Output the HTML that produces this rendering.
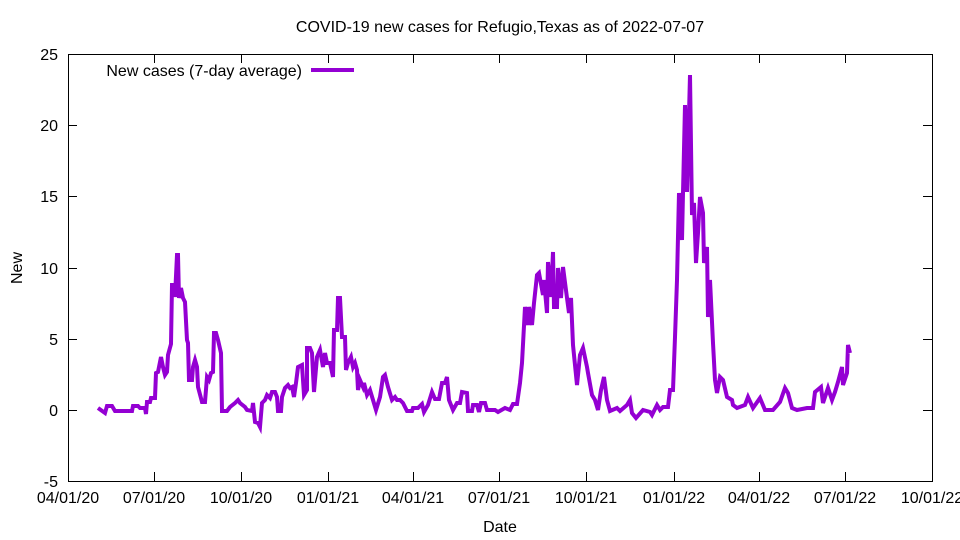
<!DOCTYPE html>
<html><head><meta charset="utf-8"><style>
html,body{margin:0;padding:0;background:#fff}
svg{display:block;font-family:"Liberation Sans",sans-serif;font-size:16px}
</style></head><body>
<svg width="960" height="540" viewBox="0 0 960 540" xmlns="http://www.w3.org/2000/svg">
<rect width="960" height="540" fill="#fff"/>
<text x="500" y="32" text-anchor="middle" font-size="16">COVID-19 new cases for Refugio,Texas as of 2022-07-07</text>
<g stroke="#000" stroke-width="1" fill="none">
<rect x="68.5" y="54.5" width="864" height="427"/>
<path d="M68 410.5h9M932 410.5h-9M68 339.5h9M932 339.5h-9M68 268.5h9M932 268.5h-9M68 196.5h9M932 196.5h-9M68 125.5h9M932 125.5h-9M68 481.5h9M932 481.5h-9M68 54.5h9M932 54.5h-9"/>
<path d="M68.5 481v-9M68.5 54v9M154.5 481v-9M154.5 54v9M241.5 481v-9M241.5 54v9M328.5 481v-9M328.5 54v9M413.5 481v-9M413.5 54v9M499.5 481v-9M499.5 54v9M586.5 481v-9M586.5 54v9M674.5 481v-9M674.5 54v9M759.5 481v-9M759.5 54v9M845.5 481v-9M845.5 54v9M932.5 481v-9M932.5 54v9"/>
</g>
<g text-anchor="end" font-size="16">
<text x="58" y="487">-5</text><text x="58" y="416">0</text><text x="58" y="345">5</text><text x="58" y="274">10</text><text x="58" y="202">15</text><text x="58" y="131">20</text><text x="58" y="60">25</text>
</g>
<g text-anchor="middle" font-size="16">
<text x="68" y="503">04/01/20</text><text x="154" y="503">07/01/20</text><text x="241" y="503">10/01/20</text><text x="328" y="503">01/01/21</text><text x="413" y="503">04/01/21</text><text x="499" y="503">07/01/21</text><text x="586" y="503">10/01/21</text><text x="674" y="503">01/01/22</text><text x="759" y="503">04/01/22</text><text x="845" y="503">07/01/22</text><text x="932" y="503">10/01/22</text>
<text x="500" y="532">Date</text>
<text x="0" y="0" transform="translate(22,268) rotate(-90)">New</text>
</g>
<text x="302" y="76" text-anchor="end">New cases (7-day average)</text>
<line x1="311" y1="70" x2="354" y2="70" stroke="#9400d3" stroke-width="4"/>
<polyline fill="none" stroke="#9400d3" stroke-width="4" stroke-linejoin="miter" points="98,408 105,413 107,406 112,406 115,411 132,411 133,406 138,406 140,408 145,408 146,414 147,402 150,402 151,398 155,398 156,373 158,372 161,357 163,367 165,375 167,372 168,355 171,344 172,285 174,285 175,297 177,255 178,255 179,298 181,288 183,298 185,302 187,340 188,343 189,380 192,380 193,367 195,360 197,367 198,387 202,402 205,402 207,377 209,380 211,373 213,372 214,333 216,333 218,340 221,353 222,411 227,411 230,407 235,403 238,400 240,403 245,407 247,410 252,411 253,403 255,422 258,423 260,427 262,403 265,400 267,395 270,398 272,392 275,392 277,397 278,411 281,411 282,397 285,388 288,385 290,388 292,387 294,397 296,383 298,367 302,365 304,395 307,390 307,348 310,348 312,353 314,392 317,357 320,350 323,367 325,353 327,363 330,363 333,377 334,330 337,330 338,298 340,298 342,337 345,337 346,370 348,363 351,357 353,367 355,363 357,370 358,390 360,380 363,387 364,383 367,395 370,390 373,400 376,410 380,397 383,377 385,375 388,387 392,400 395,397 397,400 400,400 403,403 407,411 412,411 413,408 418,408 422,404 424,412 428,405 432,392 435,399 439,399 442,383 445,383 447,377 449,400 453,410 457,403 460,403 462,392 467,393 468,411 472,411 473,405 477,405 479,412 481,403 485,403 487,410 495,410 498,412 505,408 510,410 513,404 517,404 520,383 522,363 525,307 528,325 529,307 532,325 534,303 537,275 539,273 543,295 544,280 547,313 548,262 551,297 553,252 554,307 557,307 558,268 561,298 563,267 567,298 569,313 571,298 573,345 577,385 580,355 583,348 587,367 588,373 592,395 595,400 598,410 601,390 604,377 607,400 610,411 617,408 620,411 627,405 630,400 632,413 636,418 643,410 650,412 652,415 657,405 660,410 663,407 668,407 670,390 673,390 675,337 677,280 679,193 682,240 683,193 685,105 687,192 690,75 692,215 694,203 696,263 698,233 700,197 703,213 704,263 707,247 708,317 710,280 713,343 715,380 717,393 720,377 723,380 727,397 732,400 733,405 737,408 745,405 748,397 753,408 760,398 765,410 773,410 780,402 785,388 788,393 792,408 797,410 807,408 813,408 815,392 821,387 823,403 828,388 832,400 835,392 838,382 842,367 843,385 847,373 848,345 850,353"/>
</svg>
</body></html>
